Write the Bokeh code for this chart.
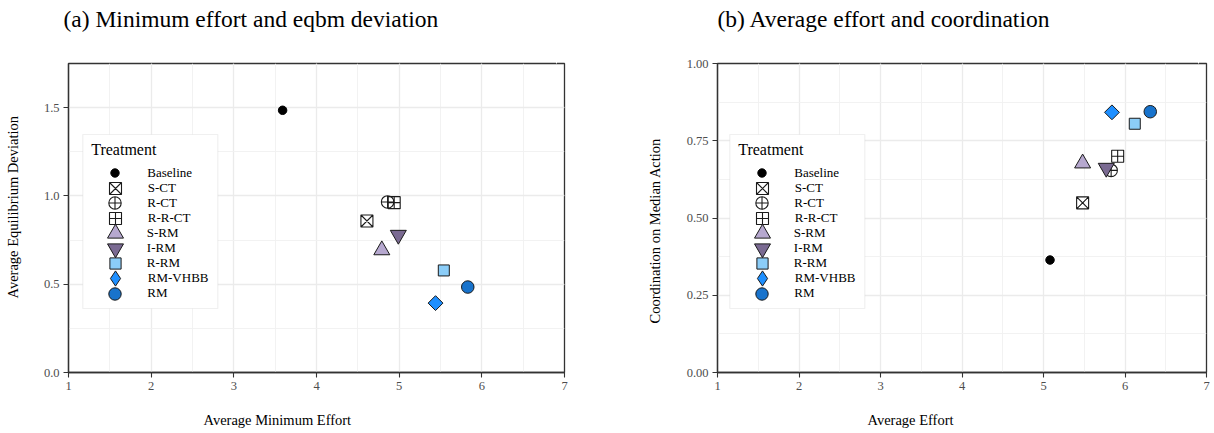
import math

from bokeh.embed import file_html
from bokeh.layouts import row
from bokeh.models import (BoxAnnotation, CustomJSTickFormatter, FixedTicker, Label,
                          Legend, LegendItem, LinearAxis, NumeralTickFormatter,
                          Range1d, SingleIntervalTicker, Title)
from bokeh.plotting import figure
from bokeh.resources import INLINE

# ---- data -----------------------------------------------------------------
treatments = ["Baseline", "S-CT", "R-CT", "R-R-CT", "S-RM", "I-RM",
              "R-RM", "RM-VHBB", "RM"]

# panel (a): average minimum effort vs. average equilibrium deviation
min_effort = [3.59, 4.61, 4.86, 4.94, 4.79, 4.99, 5.54, 5.44, 5.83]
eqbm_dev = [1.485, 0.858, 0.966, 0.962, 0.693, 0.779, 0.578, 0.393, 0.484]

# panel (b): average effort vs. coordination on the median action
avg_effort = [5.08, 5.48, 5.83, 5.91, 5.48, 5.77, 6.12, 5.84, 6.31]
coordination = [0.364, 0.549, 0.654, 0.700, 0.677, 0.662, 0.805, 0.842, 0.844]

# ---- styling ----------------------------------------------------------------
SERIF = "Liberation Serif"
INK = "#1a1a1a"
NAN = float("nan")

# marker per treatment
STYLE = {
    "Baseline": dict(marker="circle", size=8.5, fill_color="black", line_color="black", line_width=1),
    "S-CT": dict(marker="square_x", size=12, fill_color=None, line_color=INK, line_width=1.1),
    "R-CT": dict(marker="circle_cross", size=12.5, fill_color=None, line_color=INK, line_width=1.1),
    "R-R-CT": dict(marker="square_cross", size=12, fill_color=None, line_color=INK, line_width=1.1),
    "S-RM": dict(marker="triangle", size=16, fill_color="#b6a8cf", line_color=INK, line_width=1),
    "I-RM": dict(marker="inverted_triangle", size=16, fill_color="#7a6a92", line_color=INK, line_width=1),
    "R-RM": dict(marker="square", size=11, fill_color="#8bcdf8", line_color=INK, line_width=1),
    "RM-VHBB": dict(marker="square", size=10.5, angle=math.pi / 4, fill_color="#1e8fff", line_color=INK, line_width=1),
    "RM": dict(marker="circle", size=12.5, fill_color="#1873cc", line_color=INK, line_width=1),
}
# legend keys ignore marker angles, so the rotated square gets a diamond key
LEGEND_KEY = {"RM-VHBB": dict(marker="diamond", size=15)}

# legend box geometry (pixels, relative to the plot frame)
BOX_W, BOX_H, BOX_BOTTOM = 135, 174, 64
KEY_DX, LABEL_DX = 32.5, 65          # key centre / label start from box left
ROW0_DY, ROW_STEP = 38.7, 15.07      # first row centre below box top, row pitch


def spacer(p, side, gap, at):
    """Blank axis (one white, unlabeled tick) that pushes a side title outward."""
    p.add_layout(LinearAxis(ticker=FixedTicker(ticks=[at]), major_tick_out=gap,
                            major_tick_in=0, major_label_standoff=0,
                            formatter=CustomJSTickFormatter(code="return ''"),
                            major_label_text_font_size="1px",
                            axis_line_color=None, major_tick_line_color="white",
                            minor_tick_line_color=None), side)


def side_title(p, side, text, offset, size):
    p.add_layout(Title(text=text, align="left", offset=offset, standoff=0,
                       vertical_align="bottom", text_font=SERIF,
                       text_font_size=size, text_font_style="normal",
                       text_color="black"), side)


def add_legend(p, renderers, bx):
    top = BOX_BOTTOM + BOX_H
    p.add_layout(BoxAnnotation(left=bx, right=bx + BOX_W, bottom=BOX_BOTTOM, top=top,
                               left_units="screen", right_units="screen",
                               bottom_units="screen", top_units="screen",
                               fill_color="white", fill_alpha=1,
                               line_color="#cccccc", line_width=1.2))
    p.add_layout(Label(x=bx + 8.4, y=top - 15, x_units="screen", y_units="screen",
                       text="Treatment", text_align="left", text_baseline="middle",
                       text_font=SERIF, text_font_size="16px", text_color="black"))
    for i, (name, key) in enumerate(zip(treatments, renderers)):
        size = LEGEND_KEY.get(name, STYLE[name])["size"]
        h = int(round(size / 0.4))            # key marker is drawn at 0.4 x box
        cy = top - ROW0_DY - ROW_STEP * i
        cx = bx + KEY_DX
        p.add_layout(Legend(items=[LegendItem(label=name, renderers=[key])],
                            location=(cx - h / 2, cy - h / 2),
                            glyph_width=h, glyph_height=h, label_height=15,
                            label_standoff=int(round(LABEL_DX - KEY_DX - h / 2)),
                            padding=0, margin=0, spacing=0,
                            border_line_color=None, background_fill_alpha=0,
                            label_text_font=SERIF, label_text_font_size="13px",
                            label_text_color="black"))


def make_panel(xs, ys, y_end, y_step, y_fmt, border_left, border_right):
    p = figure(width=607, height=433, x_range=Range1d(1, 7), y_range=Range1d(0, y_end),
               title=None, output_backend="svg", toolbar_location=None,
               min_border_left=border_left, min_border_right=border_right,
               min_border_top=63, min_border_bottom=61)
    p.background_fill_color = "white"
    p.border_fill_color = "white"
    p.outline_line_color = "#333333"
    p.outline_line_width = 1.3

    p.xaxis.ticker = SingleIntervalTicker(interval=1, num_minor_ticks=2)
    p.yaxis.ticker = SingleIntervalTicker(interval=y_step, num_minor_ticks=2)
    p.yaxis.formatter = NumeralTickFormatter(format=y_fmt)
    for ax in (p.xaxis, p.yaxis):
        ax.axis_line_color = "#333333"
        ax.axis_line_width = 1.3
        ax.major_tick_line_color = "#333333"
        ax.major_tick_line_width = 1.1
        ax.major_tick_out = 5
        ax.major_tick_in = 0
        ax.minor_tick_line_color = None
        ax.major_label_standoff = 4
        ax.major_label_text_font = SERIF
        ax.major_label_text_font_size = "12.5px"
        ax.major_label_text_color = "#4d4d4d"

    for g in (p.xgrid, p.ygrid):
        g.grid_line_color = "#ebebeb"
        g.grid_line_width = 1.3
        g.minor_grid_line_color = "#f0f0f0"
        g.minor_grid_line_width = 0.9

    keys = []
    for name, x, y in zip(treatments, xs, ys):
        r = p.scatter(x=[x], y=[y], **STYLE[name])
        if name in LEGEND_KEY:
            st = {k: v for k, v in STYLE[name].items() if k != "angle"}
            st.update(LEGEND_KEY[name])
            r = p.scatter(x=[NAN], y=[NAN], **st)
        keys.append(r)
    return p, keys


def decorate(p, y_end, title, title_dx, xlabel, xlabel_dx, ylabel, ylabel_dy, left_gap):
    spacer(p, "above", 32, 6.9)
    side_title(p, "above", title, title_dx, "23.5px")
    spacer(p, "below", 17, 6.9)
    side_title(p, "below", xlabel, xlabel_dx, "14.5px")
    spacer(p, "left", left_gap, 0.02 * y_end)
    side_title(p, "left", ylabel, ylabel_dy, "14.5px")


pa, keys_a = make_panel(min_effort, eqbm_dev, 1.75, 0.5, "0.0", 68, 43)
decorate(pa, 1.75, "(a) Minimum effort and eqbm deviation", -5,
         "Average Minimum Effort", 135, "Average Equilibrium Deviation", 74, 20)
add_legend(pa, keys_a, 14.3)

pb, keys_b = make_panel(avg_effort, coordination, 1.0, 0.25, "0.00", 110, 8)
decorate(pb, 1.0, "(b) Average effort and coordination", 0,
         "Average Effort", 150, "Coordination on Median Action", 49, 21)
add_legend(pb, keys_b, 12.3)

layout = row(pa, pb)
open("out.html", "w").write(file_html(layout, INLINE))
